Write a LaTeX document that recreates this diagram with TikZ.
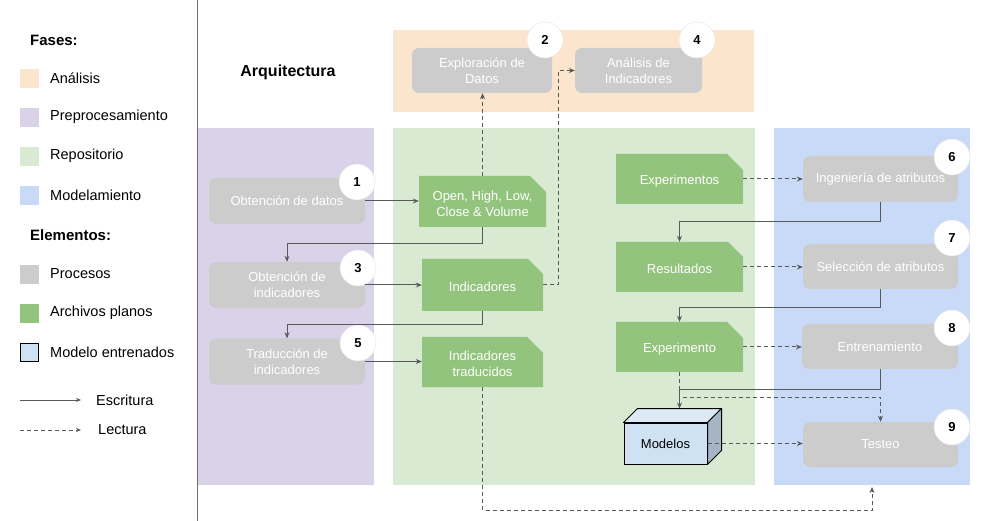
\documentclass[tikz,border=0pt]{standalone}
\usepackage{fontspec}
\setmainfont{Liberation Sans}
\usetikzlibrary{shapes.misc,arrows.meta,calc}

\definecolor{cana}{HTML}{FCE5CD}
\definecolor{cpre}{HTML}{D9D2E9}
\definecolor{crep}{HTML}{D9EAD3}
\definecolor{cmod}{HTML}{C9DAF8}
\definecolor{cproc}{HTML}{CCCCCC}
\definecolor{cfile}{HTML}{93C47D}
\definecolor{cbox}{HTML}{CFE2F3}
\definecolor{cboxtop}{HTML}{DDEAF6}
\definecolor{cboxside}{HTML}{A5B5C6}
\definecolor{cline}{HTML}{595959}
\definecolor{csep}{HTML}{707070}
\newcommand{\grnstrut}{\rule{0pt}{13.8pt}}

\begin{document}
\begin{tikzpicture}[x=1pt,y=-1pt,
  proc/.style={rectangle, rounded corners=7pt, fill=cproc, text=white,
    minimum width=156pt, minimum height=46pt, align=center, inner sep=0pt,
    font=\fontsize{13}{16}\selectfont},
  filebox/.style={chamfered rectangle, chamfered rectangle corners=north east,
    chamfered rectangle xsep=8pt, chamfered rectangle ysep=8pt,
    fill=cfile, text=white, minimum width=127pt, minimum height=50pt,
    align=center, inner sep=0pt, font=\fontsize{13}{16}\selectfont},
  num/.style={circle, fill=white, draw=gray!20, minimum size=36pt, inner sep=0pt,
    font=\bfseries\fontsize{13}{15}\selectfont},
  legtxt/.style={anchor=west, inner sep=0pt, font=\fontsize{14.5}{16}\selectfont},
  leghead/.style={anchor=west, inner sep=0pt, font=\bfseries\fontsize{15}{17}\selectfont},
  arr/.style={draw=cline, line width=1pt, -{Stealth[length=6pt,width=5pt]}},
  darr/.style={arr, dash pattern=on 4pt off 3pt},
]
\useasboundingbox (0,0) rectangle (999,521);
\fill[white] (0,0) rectangle (999,521);

% phase backgrounds
\fill[cana] (393,30) rectangle (754,112);
\fill[cpre] (198,128) rectangle (374,485);
\fill[crep] (393,128) rectangle (755,485);
\fill[cmod] (774,128) rectangle (970,485);

% separator
\draw[csep, line width=1pt] (197,0) -- (197,521);

% legend
\node[leghead] (lf) at (30,40) {Fases:};
\fill[cana] (20,69) rectangle (39,88);
\node[legtxt] (l1) at (50,78) {Análisis};
\fill[cpre] (20,108) rectangle (39,127);
\node[legtxt] (l2) at (50,117) {Preprocesamiento};
\fill[crep] (20,147) rectangle (39,166);
\node[legtxt] (l3) at (50,156) {Repositorio};
\fill[cmod] (20,186) rectangle (39,205);
\node[legtxt] (l4) at (50,195) {Modelamiento};
\node[leghead] (le) at (30,235) {Elementos:};
\fill[cproc] (20,265) rectangle (39,284);
\node[legtxt] (l5) at (50,274) {Procesos};
\fill[cfile] (20,304) rectangle (39,323);
\node[legtxt] (l6) at (50,313) {Archivos planos};
\draw[black, line width=0.8pt, fill=cbox] (20.5,343.5) rectangle (38.5,361.5);
\node[legtxt] (l7) at (50,352) {Modelo entrenados};
\coordinate (e1) at (20,400);
\coordinate (e2) at (81,400);
\draw[draw=cline, line width=0.8pt, -{Stealth[length=5pt,width=4pt]}] (e1) -- (e2);
\node[legtxt] (l8) at (96,400) {Escritura};
\coordinate (r1) at (20,430);
\coordinate (r2) at (81,430);
\draw[draw=cline, line width=0.8pt, dash pattern=on 4pt off 3pt, -{Stealth[length=5pt,width=4pt]}] (r1) -- (r2);
\node[legtxt] (l9) at (98,430) {Lectura};

% title
\node[font=\bfseries\fontsize{16}{18}\selectfont] (tit) at (288,72) {Arquitectura};

% processes
\node[proc] (od) at (287,201) {Obtención de datos};
\node[proc] (oi) at (287,285) {Obtención de\\indicadores};
\node[proc] (ti) at (287,361.5) {Traducción de\\indicadores};
\node[proc, minimum width=140pt, minimum height=45pt] (ed) at (482,70.5) {Exploración de\\Datos};
\node[proc, minimum width=127pt, minimum height=45pt] (ai) at (638.5,70.5) {Análisis de\\Indicadores};
\node[proc, minimum width=155pt] (ia) at (880.5,179) {Ingeniería de atributos};
\node[proc, minimum width=155pt, minimum height=45pt] (sa) at (880.5,266.5) {Selección de atributos};
\node[proc, minimum width=156pt, minimum height=45pt] (en) at (880,346.5) {Entrenamiento};
\node[proc, minimum width=155pt, minimum height=45pt] (te) at (880.5,444.5) {Testeo};

% files
\node[filebox, minimum height=51pt] (ohl) at (482.5,201.5) {\grnstrut Open, High, Low,\\Close \& Volume};
\node[filebox, minimum width=121pt, minimum height=52pt] (ind) at (482.5,285) {\grnstrut Indicadores};
\node[filebox, minimum width=121pt] (indt) at (482.5,362) {\grnstrut Indicadores\\traducidos};
\node[filebox] (exps) at (679.5,179) {\grnstrut Experimentos};
\node[filebox] (res) at (679.5,267) {\grnstrut Resultados};
\node[filebox] (exp) at (679.5,347) {\grnstrut Experimento};

% model cuboid
\node[rectangle, draw=black, line width=1pt, fill=cbox, minimum width=83pt, minimum height=41pt,
  inner sep=0pt, font=\fontsize{13}{16}\selectfont] (mod) at (665.5,443.5) {Modelos};
\filldraw[fill=cboxtop, draw=black, line width=1pt, line join=round]
  (mod.north west) -- ++(14,-14) -- ($(mod.north east)+(14,-14)$) -- (mod.north east) -- cycle;
\filldraw[fill=cboxside, draw=black, line width=1pt, line join=round]
  (mod.north east) -- ++(14,-14) -- ($(mod.south east)+(14,-14)$) -- (mod.south east) -- cycle;
\coordinate (modtop) at ($(mod.north)+(14,-14)$);

% numbers
\node[num] (n1) at (357,182) {1};
\node[num] (n2) at (545,40) {2};
\node[num] (n3) at (358,268) {3};
\node[num] (n4) at (697,40) {4};
\node[num] (n5) at (358,343) {5};
\node[num] (n6) at (952,157) {6};
\node[num] (n7) at (952,238) {7};
\node[num] (n8) at (952,328) {8};
\node[num] (n9) at (952,427) {9};

% connectors
\draw[arr] (od.east) -- (od.east -| ohl.west);
\draw[arr] (ohl.south) -- ++(0,16) -| (oi.north);
\draw[arr] (oi.east) -- (oi.east -| ind.west);
\draw[arr] (ind.south) -- ++(0,13) -| (ti.north);
\draw[arr] (ti.east) -- (ti.east -| indt.west);
\draw[darr] (ohl.north) -- (ohl.north |- ed.south);
\draw[darr] (ind.east) -- ++(15,0) |- (ai.west);
\coordinate (mbot) at (872,487);
\draw[darr] (indt.south) -- ++(0,123) -| (mbot);
\draw[darr] (exps.east) -- (exps.east -| ia.west);
\draw[arr] (ia.south) -- ++(0,19) -| (res.north);
\draw[darr] (res.east) -- (res.east -| sa.west);
\draw[arr] (sa.south) -- ++(0,18) -| (exp.north);
\draw[darr] (exp.east) -- (exp.east -| en.west);
\draw[darr] (exp.south) -- ++(0,25) -| (te.north);
\draw[arr] (en.south) -- ++(0,20) -| (modtop);
\draw[darr] (mod.east) -- (mod.east -| te.west);
\end{tikzpicture}
\end{document}
